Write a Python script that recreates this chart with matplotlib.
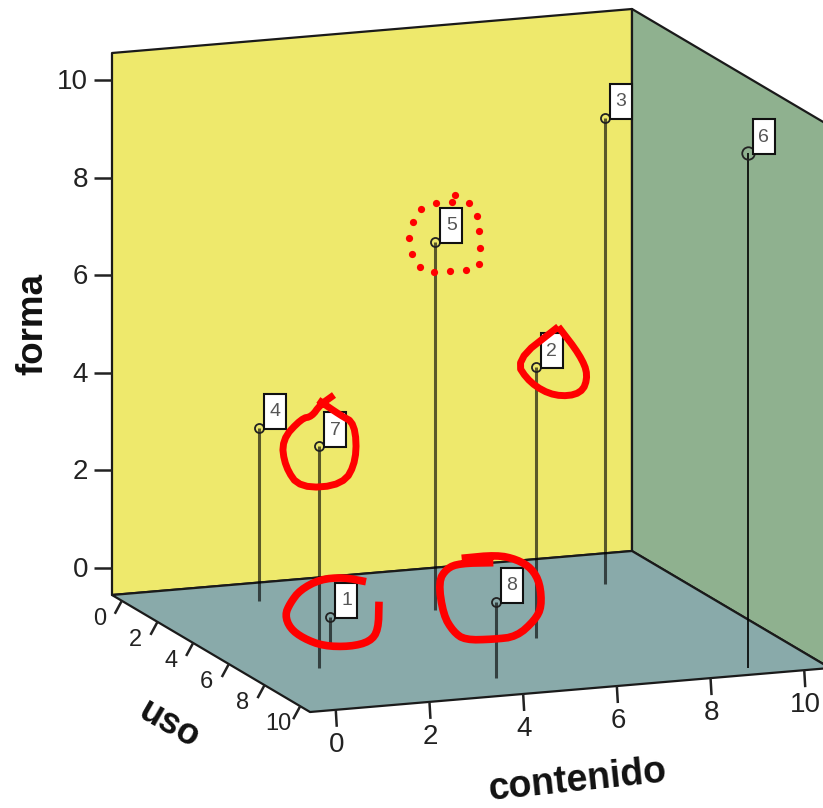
import matplotlib
matplotlib.use("Agg")
import matplotlib.pyplot as plt
from matplotlib.patches import Polygon, Rectangle

plt.rcParams['font.family'] = ['Liberation Sans', 'DejaVu Sans']

# Data
case_ids = [1, 2, 3, 4, 5, 6, 7, 8]
contenido = [2, 6, 9, 2, 5, 9, 1, 4]
uso = [5, 6, 2, 1, 3, 10, 7, 9]
forma = [0, 5, 9, 3, 7, 10, 4, 1]
tick_values = [0, 2, 4, 6, 8, 10]

# Hand-drawn red annotations (figure pixels)
ring_1 = [(1098,125),(1030,112),(960,118),(900,150),(870,190),(855,225),(870,265),(910,295),(970,318),(1050,320),(1110,305),(1135,270),(1137,185)]
ring_8 = [(185,55),(290,45),(350,58),(395,85),(420,130),(425,200),(405,240),(350,290),(280,298),(195,300),(160,275),(130,225),(115,125),(140,85),(180,70),(280,68)]
ring_7 = [(282,225),(240,255),(215,290),(185,295),(125,360),(135,440),(180,505),(310,495),(350,420),(345,310),(300,285),(235,240)]
ring_2 = [(955,20),(825,122),(870,190),(945,230),(1025,222),(1045,165),(1020,105),(955,20)]
dots_5 = [(195,585),(185,606),(137,610),(92,626),(70,667),(57,714),(66,761),(90,802),(131,816),(180,814),(228,810),(267,791),(269,743),(266,694),(261,647),(236,608)]

# Oblique projection of the box onto the page
LOW, HIGH = -0.55, 10.55
SPAN = HIGH - LOW
ORIGIN = (112, 595)
C_VEC = (520, -44)
U_VEC = (198, 117)
F_VEC = (0, -542)


def project(c, u, f):
    a, b, h = (c - LOW) / SPAN, (u - LOW) / SPAN, (f - LOW) / SPAN
    return (ORIGIN[0] + a * C_VEC[0] + b * U_VEC[0] + h * F_VEC[0],
            ORIGIN[1] + a * C_VEC[1] + b * U_VEC[1] + h * F_VEC[1])


def soften(points, closed=False):
    """One pass of corner cutting, so a hand stroke has no sharp kinks."""
    out = [points[0]] if not closed else []
    for (x0, y0), (x1, y1) in zip(points, points[1:]):
        out.append((0.75 * x0 + 0.25 * x1, 0.75 * y0 + 0.25 * y1))
        out.append((0.25 * x0 + 0.75 * x1, 0.25 * y0 + 0.75 * y1))
    out.append(points[-1])
    return out


def stroke(points, dx, dy, lw):
    pts = soften(soften(points))
    ax.plot([dx + p[0] / 3 for p in pts], [dy + p[1] / 3 for p in pts], color='#FF0000', lw=lw,
            zorder=7, solid_joinstyle='round', solid_capstyle='butt')


fig = plt.figure(figsize=(8.23, 8.08), dpi=100)
ax = fig.add_axes([0, 0, 1, 1])
ax.set_xlim(0, 823)
ax.set_ylim(808, 0)
ax.axis('off')

EDGE = '#1a1a1a'
ax.add_patch(Polygon([project(LOW, LOW, LOW), project(HIGH, LOW, LOW), project(HIGH, LOW, HIGH), project(LOW, LOW, HIGH)],
                     fc='#EEE96C', ec=EDGE, lw=1.6, joinstyle='round'))
ax.add_patch(Polygon([project(HIGH, LOW, LOW), project(HIGH, HIGH, LOW), project(HIGH, HIGH, HIGH), project(HIGH, LOW, HIGH)],
                     fc='#8FB18F', ec=EDGE, lw=1.6, joinstyle='round'))
ax.add_patch(Polygon([project(LOW, LOW, LOW), project(HIGH, LOW, LOW), project(HIGH, HIGH, LOW), project(LOW, HIGH, LOW)],
                     fc='#89AAAA', ec=EDGE, lw=1.6, joinstyle='round'))

TICK_KW = dict(color='#222222', lw=1.8, solid_capstyle='butt')
TEXT_KW = dict(fontsize=20, color='#222222', ha='center', va='center')
for t in tick_values:
    x, y = project(LOW, LOW, t)
    ax.plot([x - 18, x], [y, y], **TICK_KW)
    ax.text(x - 24, y + 2, str(t), **{**TEXT_KW, 'ha': 'right'})

    x, y = project(LOW, t, LOW)
    ax.plot([x, x - 7], [y, y + 13], **TICK_KW)
    ax.text(x - 22, y + 18, str(t), **{**TEXT_KW, 'fontsize': 17})

    x, y = project(t, HIGH, LOW)
    ax.plot([x, x + 1], [y, y + 17], **TICK_KW)
    ax.text(x + 1, y + 35, str(t), **TEXT_KW)

TITLE_KW = dict(fontweight='bold', color='#111111', ha='center', va='center')
ax.text(33, 324, 'forma', rotation=90, fontsize=26.5, **TITLE_KW)
ax.text(169, 725, 'uso', rotation=-30, fontsize=26, **TITLE_KW)
ax.text(578, 781, 'contenido', rotation=6, fontsize=27, **TITLE_KW)

for i, c, u, f in zip(case_ids, contenido, uso, forma):
    x0, y0 = project(c, u, LOW)
    x1, y1 = project(c, u, f)
    big = i == 6
    ax.plot([x0, x1], [y0, y1], color='black', lw=1.2 if big else 2.2, alpha=1 if big else 0.62,
            solid_capstyle='butt', zorder=3)
    ax.plot([x1], [y1], 'o', mfc='none', mec='#222222', mew=1.3, ms=9 if big else 6.5, zorder=4)
    ax.add_patch(Rectangle((x1 + 5, y1 + 1), 22, -35, fc='white', ec='#111111', lw=1.5, zorder=5))
    ax.text(x1 + 16, y1 - 16, str(i), fontsize=14, color='#555555', ha='center', va='center', zorder=6)

stroke(ring_1, 0, 540, 5.5)
stroke(ring_8, 400, 540, 5.5)
stroke(ring_7, 240, 320, 5)
stroke(ring_2, 240, 320, 5)
ax.plot([390 + p[0] / 3 for p in dots_5], [p[1] / 3 for p in dots_5], 'o', color='#FF0000', ms=5.2, mew=0, zorder=7)

fig.savefig('out.png', dpi=100)
